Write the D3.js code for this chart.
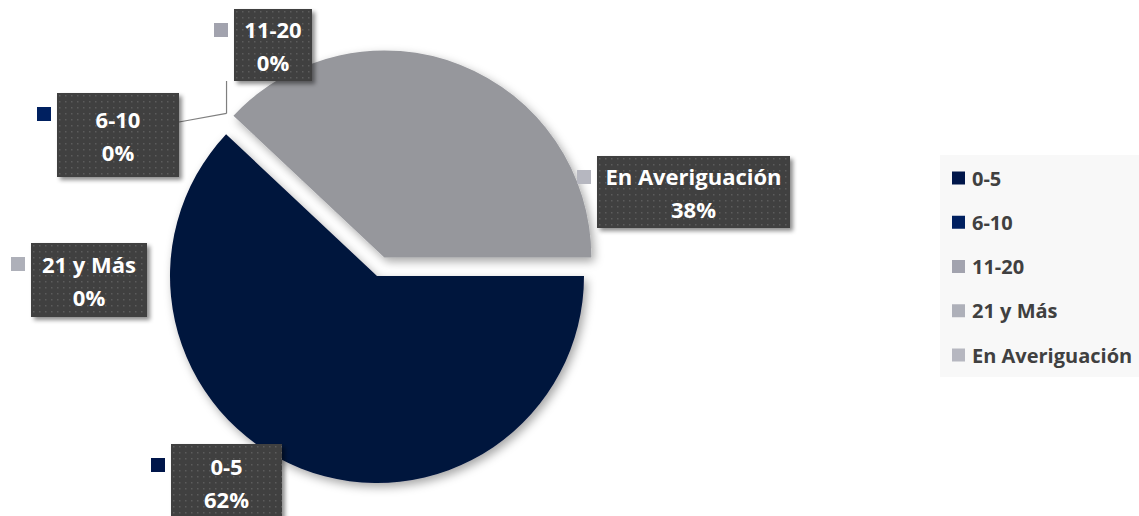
<!DOCTYPE html>
<html>
<head>
<meta charset="utf-8">
<script src="https://cdn.jsdelivr.net/npm/d3@7"></script>
<style>
  html, body { margin: 0; padding: 0; background: #fff; }
  svg { display: block; font-family: "Open Sans", Lato, sans-serif; font-weight: 700; }
</style>
</head>
<body>
<svg id="chart" width="1139" height="516"></svg>
<script>
const categories = ["0-5", "6-10", "11-20", "21 y Más", "En Averiguación"];
const values = [62, 0, 0, 0, 38];
const percentLabels = ["62%", "0%", "0%", "0%", "38%"];

// styling
const sliceColors = ["#00143c", "#002060", "#9c9da8", "#adafb8", "#96979c"];
const markerColors = ["#00164a", "#002060", "#a2a3ae", "#aeb0b9", "#b6b7c0"];

// label box layout (x, y, w, h) by category
const labelBoxes = {
  "0-5": [171, 444, 111, 76],
  "6-10": [57, 93, 122, 84],
  "11-20": [234, 9, 78, 72],
  "21 y Más": [31, 243, 116, 74],
  "En Averiguación": [597, 156, 193, 72]
};

const W = 1139, H = 516;
const cx = 377, cy = 276, R = 207;
const explode = { "En Averiguación": 20 };

const svg = d3.select("#chart");
const defs = svg.append("defs");

const pieShadow = defs.append("filter").attr("id", "pieShadow")
  .attr("x", "-20%").attr("y", "-20%").attr("width", "140%").attr("height", "140%");
pieShadow.append("feDropShadow").attr("dx", 3).attr("dy", 4).attr("stdDeviation", 5)
  .attr("flood-color", "#000").attr("flood-opacity", 0.35);

const boxShadow = defs.append("filter").attr("id", "boxShadow")
  .attr("x", "-20%").attr("y", "-20%").attr("width", "140%").attr("height", "150%");
boxShadow.append("feDropShadow").attr("dx", 3).attr("dy", 3).attr("stdDeviation", 2)
  .attr("flood-color", "#000").attr("flood-opacity", 0.45);

const dots = defs.append("pattern").attr("id", "dots")
  .attr("width", 6).attr("height", 6).attr("patternUnits", "userSpaceOnUse");
dots.append("rect").attr("width", 6).attr("height", 6).attr("fill", "#404040");
dots.append("rect").attr("x", 2).attr("y", 2).attr("width", 1.5).attr("height", 1.5).attr("fill", "#5c5c5c");

const data = categories.map((c, i) => ({ name: c, value: values[i], pct: percentLabels[i], i }));
const color = d3.scaleOrdinal(categories, sliceColors);
const mcolor = d3.scaleOrdinal(categories, markerColors);

const pie = d3.pie().sort(null).value(d => d.value)
  .startAngle(Math.PI / 2).endAngle(Math.PI / 2 + 2 * Math.PI);
const arcs = pie(data);
const arc = d3.arc().innerRadius(0).outerRadius(R);

const offsetOf = d => {
  const e = explode[d.data.name] || 0;
  const m = (d.startAngle + d.endAngle) / 2;
  return [Math.sin(m) * e, -Math.cos(m) * e];
};

const g = svg.append("g").attr("transform", `translate(${cx},${cy})`);

g.selectAll("path.slice")
  .data(arcs.filter(d => d.value > 0))
  .join("path")
  .attr("class", "slice")
  .attr("d", arc)
  .attr("transform", d => `translate(${offsetOf(d)})`)
  .attr("fill", d => color(d.data.name))
  .attr("filter", "url(#pieShadow)");

// leader lines for the zero slices above the pie
const zeroAngle = arcs[1].startAngle;
const anchor = [cx + Math.sin(zeroAngle + 0.07) * R * 1.07, cy - Math.cos(zeroAngle + 0.07) * R * 1.07];
const b610 = labelBoxes["6-10"], b1120 = labelBoxes["11-20"];
const lines = svg.append("g").attr("fill", "none").attr("stroke", "#7f7f7f").attr("stroke-width", 1.2);
lines.append("polyline").attr("points", [
  [b610[0] + b610[2], b610[1] + 29], anchor
].join(" "));
lines.append("polyline").attr("points", [
  anchor, [anchor[0], b1120[1] + b1120[3]]
].join(" "));

// data labels
const lab = svg.append("g").selectAll("g").data(data).join("g")
  .attr("transform", d => `translate(${labelBoxes[d.name][0]},${labelBoxes[d.name][1]})`);

lab.append("rect")
  .attr("width", d => labelBoxes[d.name][2])
  .attr("height", d => labelBoxes[d.name][3])
  .attr("fill", "url(#dots)")
  .attr("filter", "url(#boxShadow)");

lab.append("rect")
  .attr("x", -20).attr("y", 14).attr("width", 14).attr("height", 14)
  .attr("fill", d => mcolor(d.name));

lab.append("text")
  .attr("x", d => labelBoxes[d.name][2] / 2)
  .attr("y", d => labelBoxes[d.name][3] / 2 - 16)
  .attr("text-anchor", "middle")
  .attr("dominant-baseline", "central")
  .attr("fill", "#fff")
  .attr("font-size", 22)
  .text(d => d.name);

lab.append("text")
  .attr("x", d => labelBoxes[d.name][2] / 2)
  .attr("y", d => labelBoxes[d.name][3] / 2 + 17)
  .attr("text-anchor", "middle")
  .attr("dominant-baseline", "central")
  .attr("fill", "#fff")
  .attr("font-size", 22)
  .text(d => d.pct);

// legend
const legend = svg.append("g").attr("transform", "translate(940,155)");
legend.append("rect").attr("width", 199).attr("height", 222).attr("fill", "#f8f8f8");
const ly = d3.scalePoint().domain(categories).range([23, 200]);
const li = legend.selectAll("g.item").data(categories).join("g")
  .attr("class", "item")
  .attr("transform", d => `translate(12,${ly(d)})`);
li.append("rect").attr("y", -6.5).attr("width", 13).attr("height", 13).attr("fill", d => mcolor(d));
li.append("text").attr("x", 20).attr("dominant-baseline", "central")
  .attr("fill", "#404040").attr("font-size", 20).text(d => d);
</script>
</body>
</html>
